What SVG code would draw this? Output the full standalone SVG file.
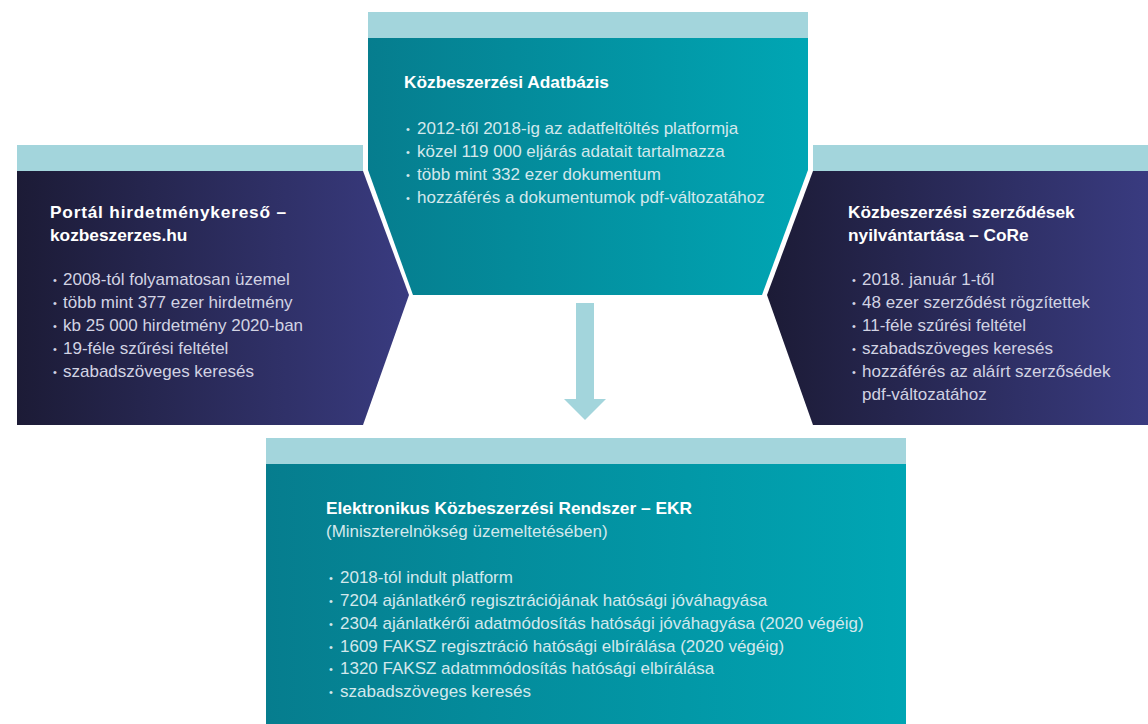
<svg xmlns="http://www.w3.org/2000/svg" width="1148" height="724" viewBox="0 0 1148 724">
<defs>
<linearGradient id="teal" x1="0" y1="0" x2="1" y2="0">
<stop offset="0" stop-color="#067D8E"/>
<stop offset="1" stop-color="#00A6B4"/>
</linearGradient>
<linearGradient id="navy" x1="0" y1="0" x2="1" y2="0">
<stop offset="0" stop-color="#1C1B36"/>
<stop offset="1" stop-color="#393B80"/>
</linearGradient>
<style>
.band{fill:#A3D5DC}
.tl{fill:url(#teal)}
.nv{fill:url(#navy)}
text{font-family:"Liberation Sans",Arial,sans-serif;font-size:17px}
.t{font-weight:bold;fill:#FFFFFF;font-size:17.3px}
.l{fill:#D3E8EC}
.n{fill:#D2D3E3}
.b{font-size:11px}
.arrow{fill:#A3D5DC}
</style>
</defs>
<rect width="1148" height="724" fill="#FFFFFF"/>

<g id="node-portal">
<rect class="band" x="17" y="145" width="346" height="26"/>
<polygon class="nv" points="17,171 363,171 409,295 363,425 17,425"/>
<text class="t" x="50" y="218" textLength="236" lengthAdjust="spacing">Portál hirdetménykereső –</text>
<text class="t" x="50" y="241">kozbeszerzes.hu</text>
<g class="n">
<text class="b" x="53" y="284">•</text><text x="63" y="285">2008-tól folyamatosan üzemel</text>
<text class="b" x="53" y="307">•</text><text x="63" y="308">több mint 377 ezer hirdetmény</text>
<text class="b" x="53" y="330">•</text><text x="63" y="331">kb 25 000 hirdetmény 2020-ban</text>
<text class="b" x="53" y="353">•</text><text x="63" y="354">19-féle szűrési feltétel</text>
<text class="b" x="53" y="376">•</text><text x="63" y="377">szabadszöveges keresés</text>
</g>
</g>

<g id="node-core">
<rect class="band" x="813" y="145" width="335" height="26"/>
<polygon class="nv" points="813,171 1148,171 1148,425 813,425 767,295"/>
<text class="t" x="848" y="218">Közbeszerzési szerződések</text>
<text class="t" x="848" y="241">nyilvántartása – CoRe</text>
<g class="n">
<text class="b" x="852" y="284">•</text><text x="862" y="285">2018. január 1-től</text>
<text class="b" x="852" y="307">•</text><text x="862" y="308">48 ezer szerződést rögzítettek</text>
<text class="b" x="852" y="330">•</text><text x="862" y="331">11-féle szűrési feltétel</text>
<text class="b" x="852" y="353">•</text><text x="862" y="354">szabadszöveges keresés</text>
<text class="b" x="852" y="376">•</text><text x="862" y="377">hozzáférés az aláírt szerzősédek</text>
<text x="862" y="400">pdf-változatához</text>
</g>
</g>

<g id="node-adatbazis">
<rect class="band" x="368" y="12" width="440" height="26"/>
<polygon class="tl" points="368,38 808,38 808,170 762,295 413,295 368,170"/>
<text class="t" x="404" y="88">Közbeszerzési Adatbázis</text>
<g class="l">
<text class="b" x="406" y="133">•</text><text x="417" y="134">2012-től 2018-ig az adatfeltöltés platformja</text>
<text class="b" x="406" y="156">•</text><text x="417" y="157">közel 119 000 eljárás adatait tartalmazza</text>
<text class="b" x="406" y="179">•</text><text x="417" y="180">több mint 332 ezer dokumentum</text>
<text class="b" x="406" y="202">•</text><text x="417" y="203">hozzáférés a dokumentumok pdf-változatához</text>
</g>
</g>

<g id="node-ekr">
<rect class="band" x="266" y="438" width="640" height="26"/>
<rect class="tl" x="266" y="464" width="640" height="260"/>
<text class="t" x="326" y="514">Elektronikus Közbeszerzési Rendszer – EKR</text>
<g class="l">
<text x="326" y="537">(Miniszterelnökség üzemeltetésében)</text>
<text class="b" x="329" y="582">•</text><text x="340" y="583">2018-tól indult platform</text>
<text class="b" x="329" y="605">•</text><text x="340" y="606">7204 ajánlatkérő regisztrációjának hatósági jóváhagyása</text>
<text class="b" x="329" y="628">•</text><text x="340" y="629">2304 ajánlatkérői adatmódosítás hatósági jóváhagyása (2020 végéig)</text>
<text class="b" x="329" y="651">•</text><text x="340" y="652">1609 FAKSZ regisztráció hatósági elbírálása (2020 végéig)</text>
<text class="b" x="329" y="673">•</text><text x="340" y="674">1320 FAKSZ adatmmódosítás hatósági elbírálása</text>
<text class="b" x="329" y="696">•</text><text x="340" y="697">szabadszöveges keresés</text>
</g>
</g>

<g id="connectors">
<polygon class="arrow" points="576,303 594,303 594,399 606,399 585,420 564,399 576,399"/>
</g>
</svg>
